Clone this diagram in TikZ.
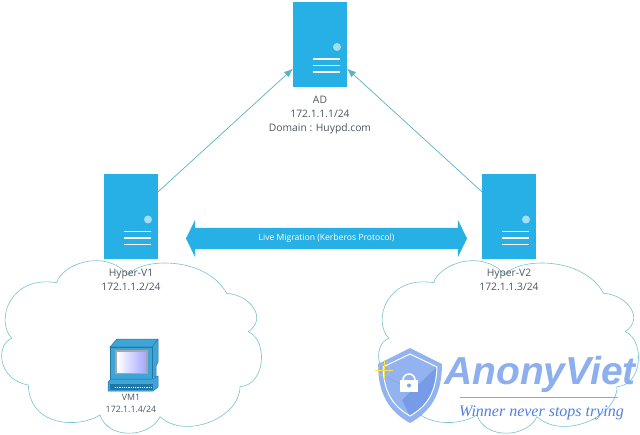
\documentclass[tikz,border=0pt]{standalone}
\usepackage{fontspec}
\setmainfont{Open Sans}
\newfontfamily\marksans{Liberation Sans}
\newfontfamily\markserif{Liberation Serif}
\usetikzlibrary{
    arrows.meta,
    positioning,
    shapes.arrows
}
\definecolor{srvblue}{HTML}{27B0E6}
\definecolor{srvlight}{HTML}{A6DDF3}
\definecolor{linkteal}{HTML}{5AB2C4}
\definecolor{cloudline}{HTML}{76C2D2}
\definecolor{labelgray}{HTML}{4A5560}
\definecolor{pcblue}{HTML}{3FA4D6}
\definecolor{pcdark}{HTML}{1F78A8}
\definecolor{markblue}{HTML}{7FA6EC}
\definecolor{markdark}{HTML}{4F7FE0}
\tikzset{
    server/.style={
        rectangle, draw=none, fill=srvblue, outer sep=0pt,
        minimum width=54pt, minimum height=85pt,
        path picture={
            \fill[srvlight] ([shift={(17pt,-3pt)}]path picture bounding box.center) circle (4pt);
            \foreach \drop in {15,21.5,28}
                \draw[white, line width=1.2pt]
                    ([shift={(-7pt,-\drop pt)}]path picture bounding box.center) --
                    ([shift={(20pt,-\drop pt)}]path picture bounding box.center);
        }
    },
    srvlabel/.style={
        align=center, text=labelgray, inner sep=0pt,
        font=\fontsize{10.3}{14.3}\selectfont
    },
    link/.style={-{Latex[length=9pt,width=7pt]}, draw=linkteal, line width=0.7pt},
    migrate/.style={
        double arrow, fill=srvblue, draw=none, text=white,
        inner xsep=0pt, inner ysep=6.5pt, text height=6pt, text depth=2pt,
        minimum height=281pt, minimum width=37pt,
        double arrow head extend=8pt, double arrow tip angle=128,
        font=\fontsize{8.6}{9}\selectfont
    },
    hostcloud/.pic={
        \draw[cloudline, line width=0.6pt]
            (56.7,282.7) .. controls (62,264) and (105,248) .. (128,275)
            .. controls (140,258) and (205,255) .. (226.7,293.3)
            .. controls (250,295) and (268,318) .. (248.3,331.7)
            .. controls (268,340) and (266,385) .. (240,386.7)
            .. controls (240,418) and (185,440) .. (160,416.7)
            .. controls (150,438) and (108,440) .. (100,415)
            .. controls (80,428) and (30,428) .. (28.3,385)
            .. controls (-2,380) and (-5,345) .. (11.7,338.3)
            .. controls (-5,320) and (10,275) .. (56.7,282.7) -- cycle;
    }
}

\begin{document}
\begin{tikzpicture}[x=1pt,y=-1pt]
    \useasboundingbox (0,0) rectangle (640,434);

    \pic (cloudleft)  at (0,0)   {hostcloud};
    \pic (cloudright) at (377,0) {hostcloud};

    \node[server] (ad)  at (320,44)  {};
    \node[server] (hv1) at (131,216.5) {};
    \node[server] (hv2) at (509,216.5) {};

    \node[srvlabel, below=9pt of ad]  (adinfo)  {AD\\172.1.1.1/24\\Domain : Huypd.com};
    \node[srvlabel, below=9.5pt of hv1] (hv1info) {Hyper-V1\\172.1.1.2/24};
    \node[srvlabel, below=9.5pt of hv2] (hv2info) {Hyper-V2\\172.1.1.3/24};

    \draw[link] (hv1) to (ad);
    \draw[link] (hv2) to (ad);

    \node[migrate] (migration) at (326.5,238.5) {Live Migration (Kerberos Protocol)};

    % VM1 computer
    \fill[pcblue, draw=pcdark, line width=0.5pt]
        (110,347) -- (117,339) -- (158,339) -- (158,362) -- (156,366) -- (156,377) -- (152,377) -- (152,347) -- cycle;
    \draw[pcdark, line width=0.5pt] (110,347) -- (152,347) (152,347) -- (158,339);
    \fill[pcblue, draw=pcdark, line width=0.5pt] (110,347) rectangle (152,379);
    \fill[gray!70!white] (115,350) rectangle (148,374);
    \shade[left color=white, right color=blue!35!white] (117,352) rectangle (146,372);
    \fill[pcblue, draw=pcdark, line width=0.5pt] (111,379) -- (152,379) -- (158,376) -- (158,387) -- (153,391) -- (108,391) -- (108,382) -- cycle;
    \fill[pcdark] (110,384) rectangle (153,390);
    \draw[white, densely dotted, line width=0.8pt] (115,387) -- (152,387);
    \node[srvlabel, font=\fontsize{8.8}{12}\selectfont, anchor=north] (vminfo) at (131,394) {VM1\\172.1.1.4/24};

    % watermark
    \begin{scope}[opacity=0.85]
    \fill[markblue] (410,348) -- (442,364) .. controls (442,395) and (430,412) .. (410,423)
        .. controls (390,412) and (378,395) .. (378,364) -- cycle;
    \fill[markdark!80!white] (437,367) .. controls (436,393) and (427,406) .. (410,416) -- (402,400) -- cycle;
    \end{scope}
    \draw[white, line width=1pt] (410,354) -- (437,367) .. controls (436,393) and (427,406) .. (410,416)
        .. controls (393,406) and (384,393) .. (383,367) -- cycle;
    \draw[white, line width=1.6pt] (403,380) arc[start angle=180, end angle=0, radius=6pt];
    \fill[white] (400,380) rectangle (418,392);
    \fill[markblue] (409,385.5) circle (2pt);
    \draw[yellow!70!orange!70!white, line width=0.2pt] (375,370) -- (393,370) (384,360) -- (384,380);
    \draw[yellow!70!orange!70!white, line width=0.2pt] (384,370) circle (6pt);
    \node[inner sep=0pt, opacity=0.9, text=markblue, font=\marksans\bfseries\itshape\fontsize{39}{40}\selectfont] (markname) at (540,374) {AnonyViet};
    \draw[markblue, line width=0.7pt] (460,397) -- (618,397);
    \node[inner sep=0pt, text=markdark, font=\markserif\itshape\fontsize{16}{18}\selectfont] (marktag) at (541.5,413) {Winner never stops trying};
\end{tikzpicture}
\end{document}
